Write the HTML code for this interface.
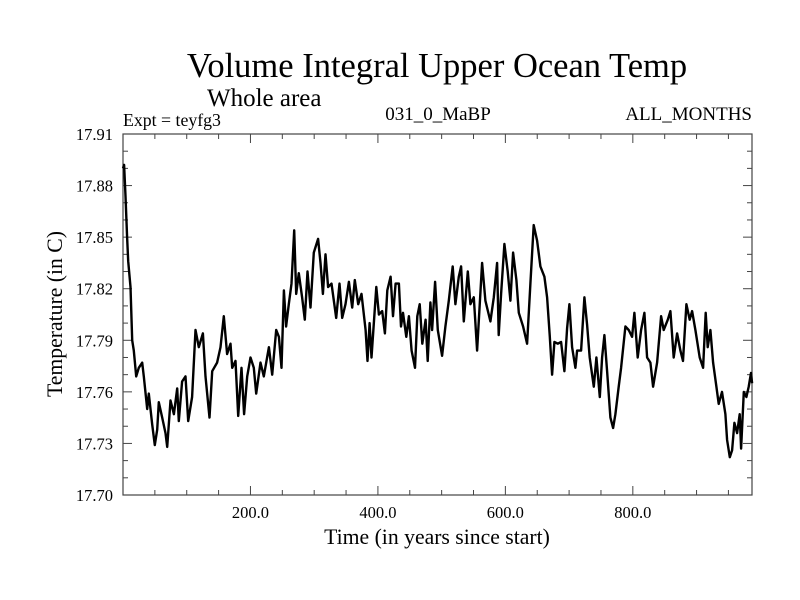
<!DOCTYPE html>
<html><head><meta charset="utf-8"><style>
body{margin:0;background:#fff;}
svg{display:block;font-family:"Liberation Serif",serif;}
</style></head><body>
<svg id="chart" width="800" height="600" viewBox="0 0 800 600">
<rect width="800" height="600" fill="#fff"/>
<text x="437" y="77" font-size="34.5" text-anchor="middle">Volume Integral Upper Ocean Temp</text>
<text x="207" y="106" font-size="25">Whole area</text>
<text x="123" y="126" font-size="17.8">Expt = teyfg3</text>
<text x="438" y="120" font-size="19" text-anchor="middle">031_0_MaBP</text>
<text x="752" y="120" font-size="19" text-anchor="end">ALL_MONTHS</text>
<text x="437" y="544" font-size="21.7" text-anchor="middle">Time (in years since start)</text>
<text transform="translate(62,314) rotate(-90)" font-size="21.7" text-anchor="middle">Temperature (in C)</text>
<g id="axes"></g>
</svg>
<script>
const years=[0,1.8,3.9,6.5,8.1,11.8,14.4,17,20.7,24.8,30.1,32.7,37.9,40.5,45.8,49.9,53.6,56.2,61.5,66.7,69.3,74.5,79.8,85,87.6,92.8,98.1,102.3,108.5,113.8,119,125.3,129.4,135.7,139.9,147.7,153,158.2,163.4,168.7,171.3,176.5,180.7,186,190.1,194.9,200.1,205.3,209,215.8,221,228.9,234.1,240.4,244.6,248.7,252.4,256,260.2,264.4,268.6,271.7,275.9,281.1,285.3,289.5,294.2,299.4,306.2,309.9,313.6,317.7,321.9,327.2,334.5,339.7,343.9,349.2,354.4,359.6,363.8,369.1,374.3,380.6,383.7,386.9,390,397.4,401.6,406.8,411,414.7,419.9,423.6,427.8,433,436.2,439.3,444.5,448.7,452.9,458.2,461.8,465.5,469.7,474.9,478.1,
482.4,485,489.7,493.9,500.7,505.9,511.2,517.4,521.6,526.9,530.5,534.7,541,545.2,550.4,555.6,563.5,568.7,576.5,581.8,587,589.6,593.3,598.5,603.7,607.9,612.1,617.3,621,627.8,634.1,639.3,644.5,649.8,655,661.3,665.5,669.6,673.3,677,682.2,687.4,692.6,696.8,700.5,704.7,709.9,712.5,718.8,724,728.2,732.4,738.7,742.9,748.1,751.8,755.4,759.6,764.8,769,772.7,777.9,781.6,788.4,793.6,798.8,802.5,807.7,813,818.2,822.4,827.6,831.8,838.1,844.3,848.5,854.8,859,864.2,869.4,874.7,878.8,884.1,889.3,893,898.2,905,910.2,914.4,917.5,921.7,925.9,931.1,934.8,940,945.3,947.9,952.1,955.7,959.4,963.6,967.7,969.9,974.1,978.2,981.9,985.5,987.1];
const temps=[17.890,17.892,17.874,17.850,17.836,17.821,17.790,17.784,17.769,17.774,17.777,17.769,17.750,17.759,17.741,17.729,17.738,17.754,17.745,17.736,17.728,17.755,17.747,17.762,17.743,17.766,17.769,17.743,17.757,17.796,17.786,17.794,17.769,17.745,17.772,17.777,17.786,17.804,17.782,17.788,17.774,17.778,17.746,17.774,17.747,17.769,17.780,17.774,17.759,17.777,17.769,17.786,17.770,17.796,17.792,17.774,17.819,17.798,17.811,17.823,17.854,17.817,17.829,17.815,17.802,17.830,17.809,17.841,17.849,17.835,17.817,17.840,17.821,17.823,17.803,17.823,17.803,17.811,17.824,17.809,17.825,17.811,17.817,17.796,17.778,17.800,17.780,17.821,17.805,17.807,17.794,17.819,17.827,17.804,17.823,17.823,17.798,17.806,17.792,17.804,17.784,17.774,17.804,17.811,17.788,17.802,17.778,
17.812,17.796,17.824,17.796,17.781,17.798,17.813,17.833,17.811,17.827,17.833,17.801,17.830,17.811,17.815,17.784,17.835,17.813,17.801,17.815,17.835,17.793,17.817,17.846,17.830,17.813,17.841,17.825,17.806,17.798,17.788,17.823,17.857,17.848,17.833,17.827,17.815,17.793,17.770,17.789,17.788,17.789,17.772,17.797,17.811,17.786,17.774,17.784,17.784,17.815,17.799,17.780,17.763,17.780,17.757,17.780,17.793,17.772,17.745,17.739,17.747,17.763,17.774,17.798,17.796,17.792,17.806,17.780,17.796,17.806,17.780,17.777,17.763,17.777,17.804,17.796,17.802,17.807,17.780,17.794,17.784,17.778,17.811,17.802,17.807,17.796,17.780,17.774,17.806,17.786,17.796,17.777,17.763,17.753,17.760,17.747,17.732,17.722,17.726,17.742,17.736,17.747,17.727,17.760,17.757,17.763,17.771,17.765];
const xTickLabels=["200.0","400.0","600.0","800.0"];
const xTickValues=[200,400,600,800];
const yTickLabels=["17.70","17.73","17.76","17.79","17.82","17.85","17.88","17.91"];
const yTickValues=[17.70,17.73,17.76,17.79,17.82,17.85,17.88,17.91];

const L=123,R=752,T=134,B=495,XMIN=0,XMAX=987,YMIN=17.70,YMAX=17.91;
const sx=v=>L+(v-XMIN)/(XMAX-XMIN)*(R-L);
const sy=v=>B-(v-YMIN)/(YMAX-YMIN)*(B-T);
const NS="http://www.w3.org/2000/svg";
const g=document.getElementById('axes');
function mk(tag,attrs){const e=document.createElementNS(NS,tag);for(const k in attrs)e.setAttribute(k,attrs[k]);g.appendChild(e);return e;}

const frame=mk('rect',{x:L,y:T,width:R-L,height:B-T,fill:'none',stroke:'#444','stroke-width':1.2});



for(let v=50;v<XMAX;v+=50){
  const x=sx(v),len=(v%200===0)?9:5;
  const t1=mk('line',{x1:x,y1:B,x2:x,y2:B-len,stroke:'#444','stroke-width':1});
  
  
  const t2=mk('line',{x1:x,y1:T,x2:x,y2:T+len,stroke:'#444','stroke-width':1});
  
  
}
xTickValues.forEach((v,i)=>{
  const t=mk('text',{x:sx(v),y:B+23,'font-size':16.5,'text-anchor':'middle'});
  t.textContent=xTickLabels[i];
  
  
});
for(let k=1;k<21;k++){
  const v=YMIN+k*0.01,y=sy(v),len=(k%3===0)?9:5;
  const t1=mk('line',{x1:L,y1:y,x2:L+len,y2:y,stroke:'#444','stroke-width':1});
  
  
  const t2=mk('line',{x1:R,y1:y,x2:R-len,y2:y,stroke:'#444','stroke-width':1});
  
  
}
yTickValues.forEach((v,i)=>{
  const t=mk('text',{x:113,y:sy(v)+6,'font-size':16.5,'text-anchor':'end'});
  t.textContent=yTickLabels[i];
  
  
});
const d=years.map((yr,i)=>(i?'L':'M')+sx(yr).toFixed(1)+','+sy(temps[i]).toFixed(1)).join('');
const line=mk('path',{d:d,fill:'none',stroke:'#000','stroke-width':2.4,'stroke-linejoin':'round'});


</script>
</body></html>
